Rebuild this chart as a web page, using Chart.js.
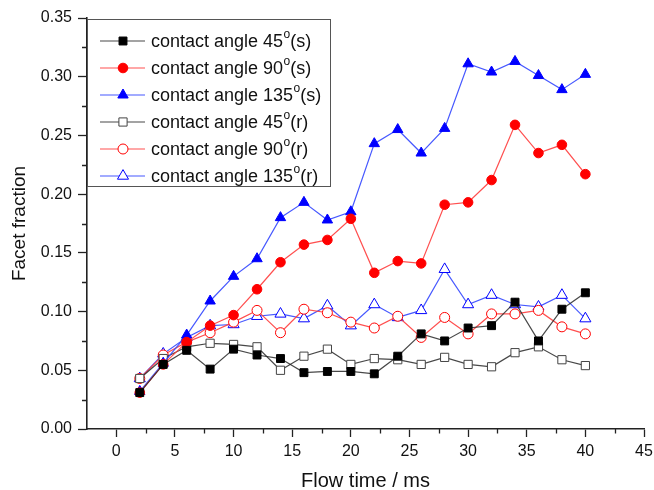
<!DOCTYPE html>
<html lang="en">
<head>
    <meta charset="UTF-8">
    <title>Facet fraction vs flow time</title>
    <script src="https://cdn.jsdelivr.net/npm/chart.js"></script>
    <style>
        body { margin: 0; background: white; }
        #wrap { width: 654px; height: 490px; }
    </style>
</head>
<body>
    <div id="wrap"><canvas id="chart"></canvas></div>
    <script>
        // flow time (ms)
        const flowTime = [2, 4, 6, 8, 10, 12, 14, 16, 18, 20, 22, 24, 26, 28, 30, 32, 34, 36, 38, 40];

        // smooth (s) series
        const angle45s  = [0.031, 0.055, 0.067, 0.051, 0.068, 0.063, 0.060, 0.048, 0.049, 0.049, 0.047, 0.062, 0.081, 0.075, 0.086, 0.088, 0.108, 0.075, 0.102, 0.116];
        const angle90s  = [0.031, 0.055, 0.074, 0.088, 0.097, 0.119, 0.142, 0.157, 0.161, 0.179, 0.133, 0.143, 0.141, 0.191, 0.193, 0.212, 0.259, 0.235, 0.242, 0.217];
        const angle135s = [0.032, 0.056, 0.080, 0.109, 0.130, 0.145, 0.180, 0.193, 0.178, 0.185, 0.243, 0.255, 0.235, 0.256, 0.311, 0.304, 0.313, 0.301, 0.289, 0.302];

        // rough (r) series
        const angle45r  = [0.043, 0.060, 0.070, 0.073, 0.072, 0.070, 0.050, 0.062, 0.068, 0.055, 0.060, 0.059, 0.055, 0.061, 0.055, 0.053, 0.065, 0.070, 0.059, 0.054];
        const angle90r  = [0.043, 0.063, 0.074, 0.082, 0.091, 0.101, 0.082, 0.102, 0.099, 0.091, 0.086, 0.096, 0.078, 0.095, 0.081, 0.098, 0.098, 0.101, 0.087, 0.081];
        const angle135r = [0.043, 0.064, 0.078, 0.088, 0.089, 0.096, 0.098, 0.094, 0.105, 0.088, 0.106, 0.095, 0.101, 0.136, 0.106, 0.114, 0.106, 0.104, 0.114, 0.094];

        const xTicks = [0, 5, 10, 15, 20, 25, 30, 35, 40, 45];
        const yTicks = [0, 0.05, 0.10, 0.15, 0.20, 0.25, 0.30, 0.35];

        const toPoints = ys => flowTime.map((x, i) => ({ x: x, y: ys[i] }));

        const series = [
            { label: 'contact angle 45', suffix: '(s)', data: angle45s,  color: '#000000', style: 'rect',     radius: 5.6, filled: true },
            { label: 'contact angle 90', suffix: '(s)', data: angle90s,  color: '#ff0000', style: 'circle',   radius: 4.8, filled: true },
            { label: 'contact angle 135', suffix: '(s)', data: angle135s, color: '#0000ff', style: 'triangle', radius: 6,   filled: true },
            { label: 'contact angle 45', suffix: '(r)', data: angle45r,  color: '#000000', style: 'rect',     radius: 5.8, filled: false },
            { label: 'contact angle 90', suffix: '(r)', data: angle90r,  color: '#ff0000', style: 'circle',   radius: 5,   filled: false },
            { label: 'contact angle 135', suffix: '(r)', data: angle135r, color: '#0000ff', style: 'triangle', radius: 6.4, filled: false },
        ];

        const lineColor = {
            '#000000': 'rgba(40,40,40,0.85)',
            '#ff0000': 'rgba(255,60,60,0.9)',
            '#0000ff': 'rgba(50,70,255,0.9)',
        };

        const datasets = series.map(s => ({
            label: s.label + 'o' + s.suffix,
            data: toPoints(s.data),
            borderColor: lineColor[s.color],
            borderWidth: 1.2,
            pointStyle: s.style,
            pointRadius: s.radius,
            pointHoverRadius: s.radius,
            pointBackgroundColor: s.filled ? s.color : '#ffffff',
            pointBorderColor: s.filled ? s.color : (s.color === '#000000' ? '#444444' : s.color),
            pointBorderWidth: 1,
            tension: 0,
            fill: false,
        }));

        const FONT = "'Liberation Sans', Arial, sans-serif";

        // minor ticks halfway between the labelled ones
        const minorTicks = {
            id: 'minorTicks',
            afterDraw(chart) {
                const ctx = chart.ctx;
                const xs = chart.scales.x, ys = chart.scales.y;
                ctx.save();
                ctx.strokeStyle = '#222';
                ctx.lineWidth = 1.3;
                ctx.beginPath();
                for (let v = 2.5; v < 45; v += 5) {
                    const px = Math.round(xs.getPixelForValue(v)) + 0.5;
                    ctx.moveTo(px, xs.top);
                    ctx.lineTo(px, xs.top + 4.5);
                }
                for (let v = 0.025; v < 0.35; v += 0.05) {
                    const py = Math.round(ys.getPixelForValue(v)) + 0.5;
                    ctx.moveTo(ys.right, py);
                    ctx.lineTo(ys.right - 5, py);
                }
                ctx.stroke();
                ctx.restore();
            }
        };

        // boxed legend with superscript degree "o"
        const boxLegend = {
            id: 'boxLegend',
            afterDraw(chart) {
                const ctx = chart.ctx;
                const left = chart.chartArea.left, top = 19, right = 330, bottom = 186;
                ctx.save();
                ctx.strokeStyle = '#555';
                ctx.lineWidth = 1;
                ctx.strokeRect(left + 0.5, top + 0.5, right - left, bottom - top);
                series.forEach((s, i) => {
                    const y = 41 + i * 27;
                    const ds = chart.data.datasets[i];
                    ctx.strokeStyle = ds.borderColor;
                    ctx.lineWidth = 1.2;
                    ctx.beginPath();
                    ctx.moveTo(100, y);
                    ctx.lineTo(145, y);
                    ctx.stroke();
                    ctx.fillStyle = ds.pointBackgroundColor;
                    ctx.strokeStyle = ds.pointBorderColor;
                    ctx.lineWidth = 1;
                    Chart.helpers.drawPoint(ctx, { pointStyle: s.style, radius: s.radius, borderWidth: 1 }, 123, y);
                    ctx.fillStyle = '#111';
                    ctx.textBaseline = 'middle';
                    ctx.font = '18px ' + FONT;
                    let x = 151;
                    ctx.fillText(s.label, x, y + 1);
                    x += ctx.measureText(s.label).width;
                    ctx.font = '12px ' + FONT;
                    ctx.fillText('o', x + 0.5, y - 6);
                    x += ctx.measureText('o').width + 0.5;
                    ctx.font = '18px ' + FONT;
                    ctx.fillText(s.suffix, x, y + 1);
                });
                ctx.restore();
            }
        };

        new Chart(document.getElementById('chart'), {
            type: 'line',
            data: { datasets: datasets },
            options: {
                responsive: true,
                maintainAspectRatio: false,
                animation: false,
                layout: { padding: { top: 18, right: 10, left: 0, bottom: 0 } },
                plugins: {
                    legend: { display: false },
                    tooltip: { enabled: false },
                },
                scales: {
                    x: {
                        type: 'linear',
                        min: -2.5,
                        max: 45,
                        afterBuildTicks: s => { s.ticks = xTicks.map(v => ({ value: v })); },
                        afterFit: s => { s.height = 61; s.paddingLeft = 0; s.paddingRight = 0; },
                        grid: { display: true, drawOnChartArea: false, drawTicks: true, tickLength: 8, tickColor: '#222', tickWidth: 1.3 },
                        border: { display: true, color: '#222', width: 1.6 },
                        ticks: { color: '#111', font: { family: FONT, size: 16 }, padding: 5, maxRotation: 0, callback: v => String(v) },
                        title: { display: true, text: 'Flow time / ms', color: '#111', font: { family: FONT, size: 20, lineHeight: 1 }, padding: { top: 0, bottom: -1 } },
                    },
                    y: {
                        min: 0,
                        max: 0.35,
                        afterBuildTicks: s => { s.ticks = yTicks.map(v => ({ value: v })); },
                        afterFit: s => { s.width = 87; s.paddingTop = 0; s.paddingBottom = 0; },
                        grid: { display: true, drawOnChartArea: false, drawTicks: true, tickLength: 9, tickColor: '#222', tickWidth: 1.3 },
                        border: { display: true, color: '#222', width: 1.6 },
                        ticks: { color: '#111', font: { family: FONT, size: 16 }, padding: 6, callback: v => v.toFixed(2) },
                        title: { display: true, text: 'Facet fraction', color: '#111', font: { family: FONT, size: 19 }, padding: { top: 8, bottom: 0 } },
                    },
                },
            },
            plugins: [minorTicks, boxLegend],
        });
    </script>
</body>
</html>
